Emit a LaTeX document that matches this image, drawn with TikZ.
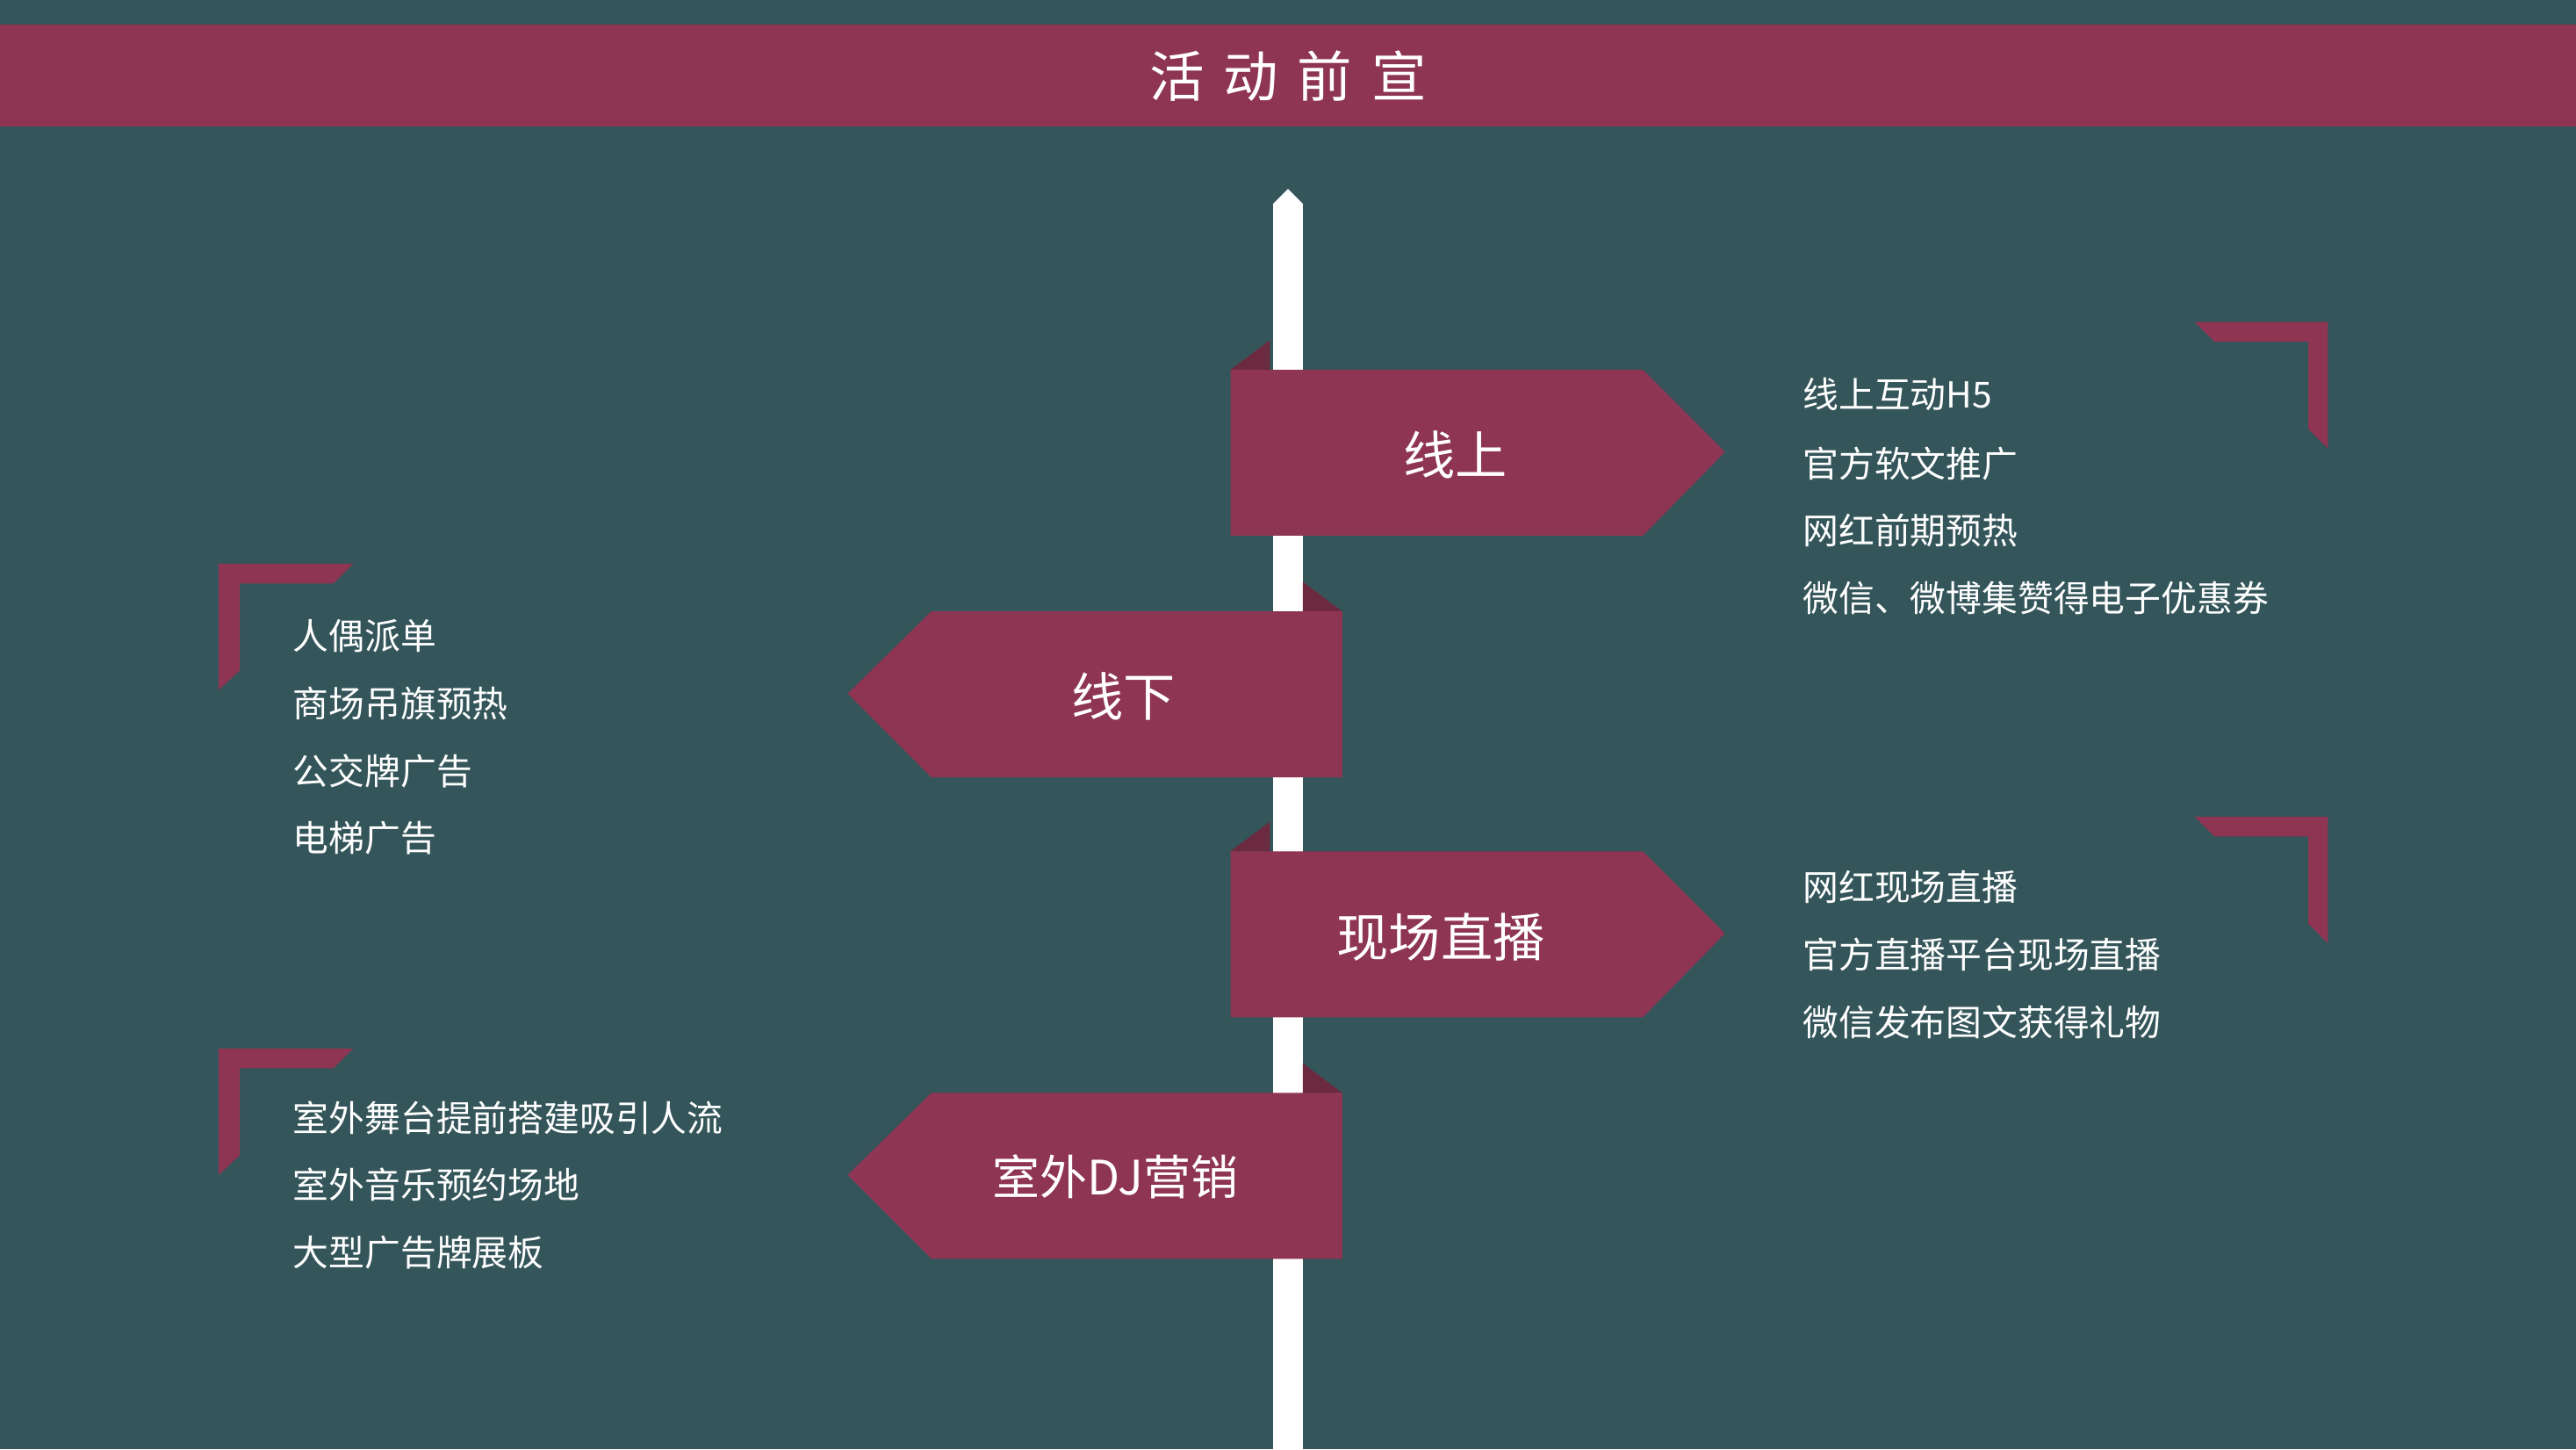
\documentclass[tikz,border=0pt]{standalone}
\usepackage{fontspec}
\newfontfamily\cjk{Noto Sans CJK SC}
\definecolor{bgteal}{HTML}{34555A}
\definecolor{wine}{HTML}{8E3553}
\definecolor{winedark}{HTML}{6C2A40}
\tikzset{
  signtext/.style={text=white,font=\cjk\fontsize{9}{10}\selectfont},
  listtext/.style={text=white,font=\cjk\fontsize{6.2}{7}\selectfont,anchor=west},
  bracket/.style={fill=wine,draw=none}
}
\begin{document}
\begin{tikzpicture}[x=0.01cm,y=-0.01cm]
	\fill [bgteal] (0,0) rectangle (1568,882);
	\useasboundingbox (0,0) rectangle (1568,882);
	% banner
	\fill [wine] (0,15) rectangle (1568,77);
	\node (title) at (784,46) [text=white,font=\cjk\fontsize{9.5}{10}\selectfont] {活\hspace{0.35em}动\hspace{0.35em}前\hspace{0.35em}宣};
	% pole
	\fill [white] (775,882) -- (775,124) -- (784,115) -- (793,124) -- (793,882) -- cycle;
	% signs
	\foreach \y/\t in {225/线上,518/现场直播} {
		\fill [winedark] (749,\y) -- (773,\y-18) -- (773,\y) -- cycle;
		\fill [wine] (749,\y) -- (1000,\y) -- (1050,\y+50) -- (1000,\y+101) -- (749,\y+101) -- cycle;
	}
	\foreach \y in {372,665} {
		\fill [winedark] (817,\y) -- (793,\y-18) -- (793,\y) -- cycle;
		\fill [wine] (817,\y) -- (567,\y) -- (516,\y+50) -- (567,\y+101) -- (817,\y+101) -- cycle;
	}
	\node (online) at (886,277) [signtext] {线上};
	\node (offline) at (684,424) [signtext] {线下};
	\node (live) at (877,570) [signtext] {现场直播};
	\node (outdoor) at (679,716) [signtext,font=\cjk\fontsize{8.2}{9}\selectfont] {室外DJ营销};
	% brackets
	\foreach \y in {196,497} {
		\fill [bracket] (1336,\y) -- (1417,\y) -- (1417,\y+77) -- (1405,\y+65) -- (1405,\y+12) -- (1348,\y+12) -- cycle;
	}
	\foreach \y in {343,638} {
		\fill [bracket] (215,\y) -- (133,\y) -- (133,\y+77) -- (146,\y+65) -- (146,\y+12) -- (203,\y+12) -- cycle;
	}
	% lists
	\node (on1) at (1085,240) [listtext] {线上互动H5};
	\node (on2) at (1085,282) [listtext] {官方软文推广};
	\node (on3) at (1085,323) [listtext] {网红前期预热};
	\node (on4) at (1085,364) [listtext] {微信、微博集赞得电子优惠券};
	\node (off1) at (166,387) [listtext] {人偶派单};
	\node (off2) at (166,428) [listtext] {商场吊旗预热};
	\node (off3) at (166,469) [listtext] {公交牌广告};
	\node (off4) at (166,510) [listtext] {电梯广告};
	\node (lv1) at (1085,540) [listtext] {网红现场直播};
	\node (lv2) at (1085,581) [listtext] {官方直播平台现场直播};
	\node (lv3) at (1085,622) [listtext] {微信发布图文获得礼物};
	\node (od1) at (166,680) [listtext] {室外舞台提前搭建吸引人流};
	\node (od2) at (166,721) [listtext] {室外音乐预约场地};
	\node (od3) at (166,762) [listtext] {大型广告牌展板};
\end{tikzpicture}
\end{document}
